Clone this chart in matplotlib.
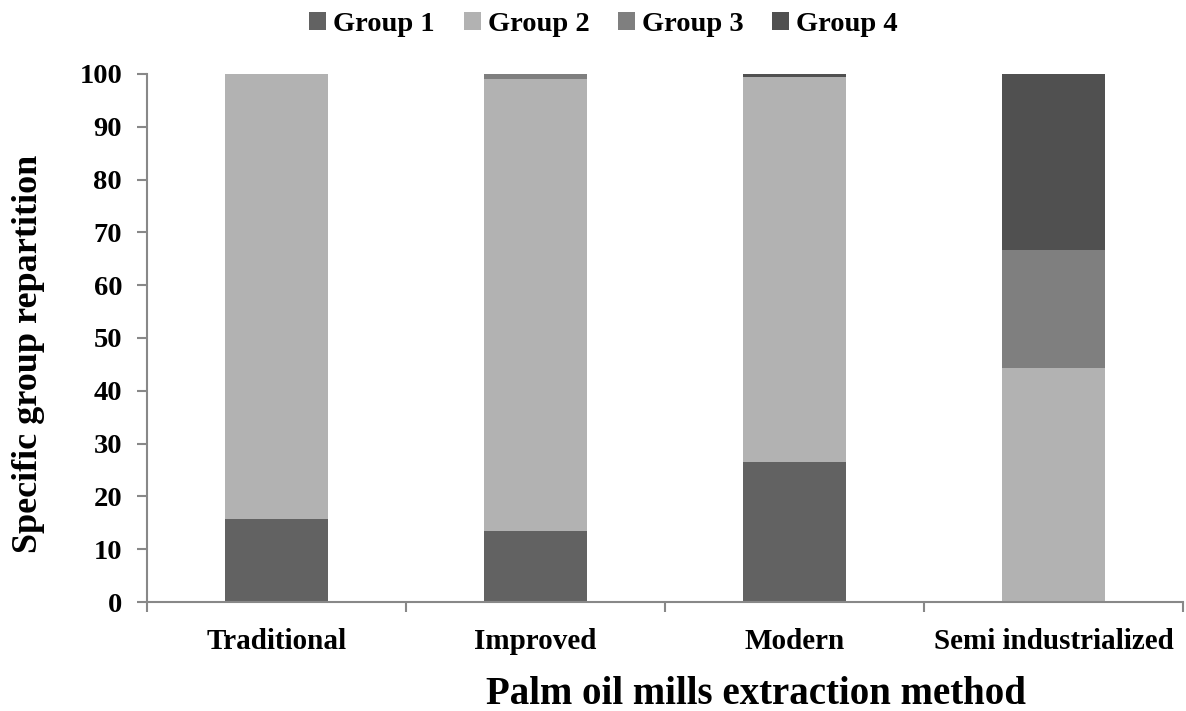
import numpy as np
import matplotlib.pyplot as plt

plt.rcParams['font.family'] = ['Liberation Serif', 'DejaVu Serif']
plt.rcParams['font.weight'] = 'bold'

# data
methods = ['Traditional', 'Improved', 'Modern', 'Semi industrialized']
groups = ['Group 1', 'Group 2', 'Group 3', 'Group 4']
group1 = [15.8, 13.4, 26.6, 0.0]
group2 = [84.2, 85.6, 72.8, 44.4]
group3 = [0.0, 1.0, 0.0, 22.3]
group4 = [0.0, 0.0, 0.6, 33.3]
colors = ['#626262', '#b2b2b2', '#7f7f7f', '#505050']

fig = plt.figure(figsize=(11.86, 7.11), dpi=100)
ax = fig.add_axes([0.124, 0.1533, 0.8735, 0.7427])

x = np.arange(len(methods))
bottom = np.zeros(len(methods))
for name, vals, c in zip(groups, [group1, group2, group3, group4], colors):
    ax.bar(x, vals, 0.4, bottom=bottom, color=c, label=name, linewidth=0)
    bottom += np.array(vals)

ax.set_xlim(-0.5, len(methods) - 0.5)
ax.set_ylim(0, 100)
ax.set_yticks(np.arange(0, 101, 10))
ax.set_xticks(x)
ax.set_xticklabels(methods)
# category separators
ax.set_xticks(np.arange(-0.5, len(methods)), minor=True)
ax.tick_params(axis='x', which='major', length=0, pad=19, labelsize=21)
ax.tick_params(axis='x', which='minor', length=7, color='#888888', width=1.5)
ax.tick_params(axis='y', length=7, color='#888888', width=1.5, labelsize=20.5, pad=11)
for s in ['top', 'right']:
    ax.spines[s].set_visible(False)
for s in ['left', 'bottom']:
    ax.spines[s].set_color('#888888')
    ax.spines[s].set_linewidth(1.5)

ax.set_xlabel('Palm oil mills extraction method', fontsize=28, fontweight='bold')
ax.xaxis.set_label_coords(0.588, -0.14)
ax.set_ylabel('Specific group repartition', fontsize=26, fontweight='bold')
ax.yaxis.set_label_coords(-0.099, 0.47)

fig.legend(loc='upper center', bbox_to_anchor=(0.509, 0.999), ncol=4, frameon=False,
           fontsize=20.5, handlelength=0.6, handleheight=0.6, handletextpad=0.25,
           columnspacing=1.0, borderaxespad=0)

plt.savefig('out.png', dpi=100)
